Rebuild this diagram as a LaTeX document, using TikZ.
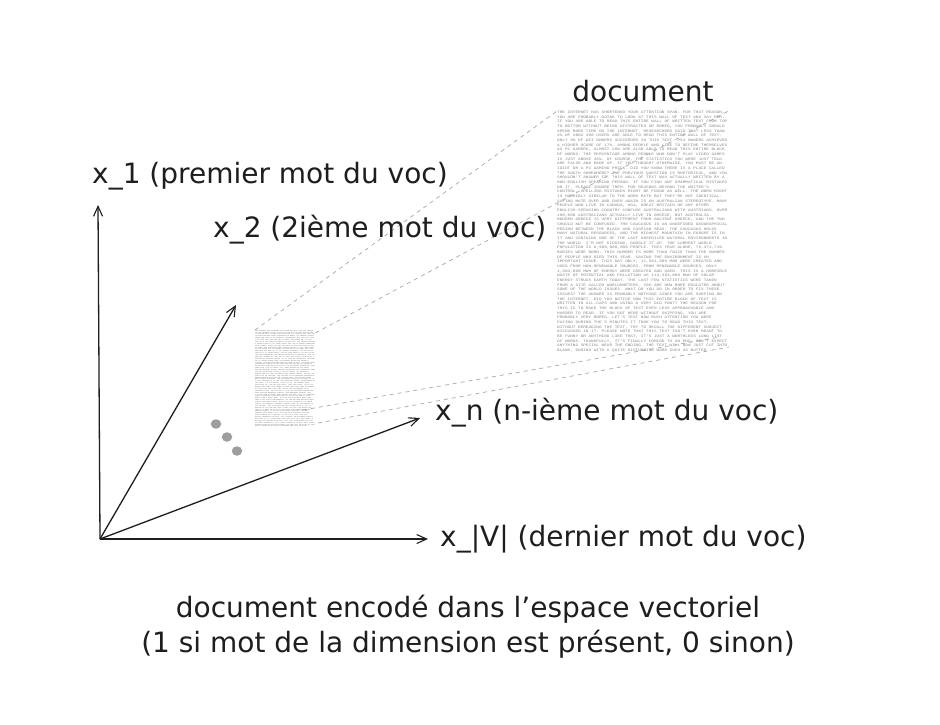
\documentclass[tikz,border=0pt]{standalone}
\usepackage{fontspec}
\setmainfont{DejaVu Sans}
\setmonofont{Liberation Mono}
\usetikzlibrary{arrows.meta,shapes.geometric}
\definecolor{ink}{HTML}{1E1E1E}
\definecolor{doctxt}{HTML}{8A8A8A}
\definecolor{doctxtsmall}{HTML}{6A6A6A}
\definecolor{dashc}{HTML}{A8A8A8}
\definecolor{dotc}{HTML}{9E9E9E}
\newcommand\doctext[1]{\parbox[b]{392pt}{\fontsize{10}{13}\selectfont\ttfamily\raggedright\color{#1}%
THE INTERNET HAS SHORTENED YOUR ATTENTION SPAN. FOR THAT REASON, YOU ARE PROBABLY GOING TO LOOK AT THIS WALL OF TEXT AND SAY MEH. IF YOU ARE ABLE TO READ THIS ENTIRE WALL OF WRITTEN TEXT FROM TOP TO BOTTOM WITHOUT BEING DISTRACTED OR BORED, YOU PROBABLY SHOULD SPEND MORE TIME ON THE INTERNET. RESEARCHERS SAID THAT LESS THAN 4\% OF XBOX 360 USERS ARE ABLE TO READ THIS ENTIRE WALL OF TEXT. ONLY 9\% OF WII OWNERS SUCCEEDED IN THIS TEXT. PS3 OWNERS ACHIEVED A HIGHER SCORE OF 17\%. AMONG PEOPLE WHO LIKE TO DEFINE THEMSELVES AS PC GAMERS, ALMOST 28\% ARE ALSO ABLE TO READ THIS ENTIRE BLOCK OF WORDS. THE PERCENTAGE AMONG PEOPLE WHO DON'T PLAY VIDEO GAMES IS JUST ABOVE 36\%. OF COURSE, THE STATISTICS YOU WERE JUST TOLD ARE FALSE AND MADE UP. IF YOU THOUGHT OTHERWISE, YOU MUST BE AN IDIOT OR A PC GAMING PRICK. DID YOU KNOW THERE IS A PLACE CALLED THE SOUTH SOMEWHERE? THE PREVIOUS QUESTION IS RHETORICAL, AND YOU SHOULDN'T ANSWER IT. THIS WALL OF TEXT WAS ACTUALLY WRITTEN BY A NON-ENGLISH SPEAKING PERSON. IF YOU FIND ANY GRAMMATICAL MISTAKES ON IT, PLEASE IGNORE THEM. FOR REASONS BEYOND THE WRITER'S CONTROL, SPELLING MISTAKES MIGHT BE FOUND AS WELL. THE WORD MIGHT IS HORRIBLY SIMILAR TO THE WORD MATE BUT THEY'RE NOT IDENTICAL. SAYING MATE OVER AND OVER AGAIN IS AN AUSTRALIAN STEREOTYPE. MANY PEOPLE WHO LIVE IN CANADA, USA, GREAT BRITAIN OR ANY OTHER ENGLISH-SPEAKING COUNTRY CONFUSE AUSTRALIANS WITH AUSTRIANS. OVER 100,000 AUSTRALIANS ACTUALLY LIVE IN GREECE, NOT AUSTRALIA. MODERN GREECE IS VERY DIFFERENT FROM ANCIENT GREECE, AND THE TWO SHOULD NOT BE CONFUSED. THE CAUCASUS IS AN UNDEFINED GEOGRAPHICAL REGION BETWEEN THE BLACK AND CASPIAN SEAS. THE CAUCASUS HOLDS MANY NATURAL RESOURCES, AND THE HIGHEST MOUNTAIN IN EUROPE IS IN IT AND CONTAINS ONE OF THE LAST UNSPOILED NATURAL ENVIRONMENTS IN THE WORLD. I'M NOT KIDDING, GOOGLE IT UP. THE CURRENT WORLD POPULATION IS 6,900,000,000 PEOPLE. THIS YEAR ALONE, 76,371,719 BABIES WERE BORN. THIS NUMBER IS MORE THAN TWICE THAN THE NUMBER OF PEOPLE WHO DIED THIS YEAR. SAVING THE ENVIRONMENT IS AN IMPORTANT ISSUE. THIS DAY ONLY, 11,581,000 MWH WERE CREATED AND USED FROM NON-RENEWABLE SOURCES. FROM RENEWABLE SOURCES, ONLY 1,904,000 MWH OF ENERGY WERE CREATED AND USED. THIS IS A HORRIBLE WASTE OF POTENTIAL AND POLLUTION AS 113,383,000 MWH OF SOLAR ENERGY STRUCK EARTH TODAY. THE LAST FEW STATISTICS WERE TAKEN FROM A SITE CALLED WORLDOMETERS. YOU ARE NOW MORE EDUCATED ABOUT SOME OF THE WORLD ISSUES. WHAT DO YOU DO IN ORDER TO FIX THESE ISSUES? THE ANSWER IS PROBABLY NOTHING SINCE YOU ARE SURFING ON THE INTERNET. DID YOU NOTICE HOW THIS ENTIRE BLOCK OF TEXT IS WRITTEN IN ALL-CAPS AND USING A VERY OLD FONT? THE REASON FOR THIS IS TO MAKE THE BLOCK OF TEXT EVEN LESS APPROACHABLE AND HARDER TO READ. IF YOU GOT HERE WITHOUT SKIPPING, YOU ARE PROBABLY VERY BORED. LET'S TEST HOW MUCH ATTENTION YOU WERE PAYING DURING THE 5 MINUTES IT TOOK YOU TO READ THIS TEXT. WITHOUT REREADING THE TEXT, TRY TO RECALL THE DIFFERENT SUBJECT DISCUSSED IN IT. PLEASE NOTE THAT THIS TEXT ISN'T EVEN MEANT TO BE FUNNY OR ANYTHING LIKE THAT, IT'S JUST A WORTHLESS LONG LIST OF WORDS. THANKFULLY, IT'S FINALLY COMING TO AN END. DON'T EXPECT ANYTHING SPECIAL NEAR THE ENDING. THE TEXT WILL NOW JUST CUT INTO BLANK, ENDING WITH A QUITE DISTURBING WORD SUCH AS BUTTER}}
\tikzset{
  lbl/.style={inner sep=0pt, text=ink, font=\fontsize{28}{33}\selectfont},
  axis/.style={draw=ink, line width=1.3pt, -{Straight Barb[length=10pt,width=9pt,line width=1.1pt]}},
  zoomline/.style={draw=dashc, line width=0.7pt, dash pattern=on 4pt off 4pt},
  dotm/.style={ellipse, fill=dotc, minimum width=10.5pt, minimum height=9.5pt, inner sep=0pt},
}
\begin{document}
\begin{tikzpicture}[x=1pt,y=-1pt]
\useasboundingbox[fill=white] (0,0) rectangle (940,725);
% documents
\node[inner sep=0pt, anchor=north west] (big) at (557,111) {\resizebox*{171pt}{241pt}{\doctext{doctxt}}};
\node[inner sep=0pt, anchor=north west] (small) at (255,330) {\resizebox*{60pt}{97pt}{\doctext{doctxtsmall}}};
\node[lbl, anchor=base] (doclbl) at (643,102) {document};
% zoom lines
\coordinate (s1) at (303,410);
\coordinate (b1) at (720,337);
\coordinate (s2) at (318,423);
\coordinate (b2) at (729,347);
\draw[zoomline] (small.north west) -- (big.north west);
\draw[zoomline] ([yshift=-3pt]small.north east) -- (big.north east);
\draw[zoomline] (s1) -- (b1);
\draw[zoomline] (s2) -- (b2);
% dots
\node[dotm] (d1) at (216,424) {};
\node[dotm] (d2) at (227,437) {};
\node[dotm] (d3) at (237,451) {};
% axes
\coordinate (O) at (100,539);
\coordinate (t1) at (98,205);
\coordinate (t2) at (236,305);
\coordinate (tn) at (420,418);
\coordinate (tv) at (428,539);
\draw[axis] (O) -- (t1);
\draw[axis] (O) -- (t2);
\draw[axis] (O) -- (tn);
\draw[axis] (O) -- (tv);
% labels
\node[lbl, anchor=base west] (l1) at (92,183) {x\_1 (premier mot du voc)};
\node[lbl, anchor=base west] (l2) at (213,237) {x\_2 (2ième mot du voc)};
\node[lbl, anchor=base west] (ln) at (435,420) {x\_n (n-ième mot du voc)};
\node[lbl, anchor=base west] (lv) at (440,546) {x\_|V| (dernier mot du voc)};
\node[lbl, anchor=base] (c1) at (468,617) {document encodé dans l’espace vectoriel};
\node[lbl, anchor=base] (c2) at (468,652) {(1 si mot de la dimension est présent, 0 sinon)};
\end{tikzpicture}
\end{document}
